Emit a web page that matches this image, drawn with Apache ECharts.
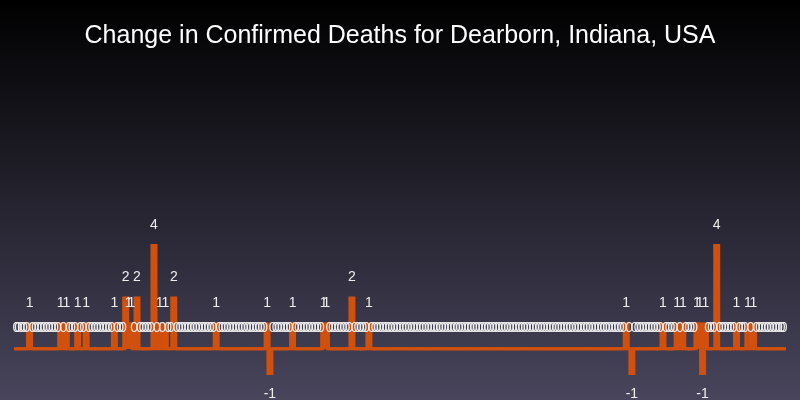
<!DOCTYPE html>
<html>
<head>
<meta charset="utf-8">
<script src="https://cdn.jsdelivr.net/npm/echarts@6/dist/echarts.min.js"></script>
<style>
  html, body { margin: 0; padding: 0; }
  #chart { width: 800px; height: 400px; }
</style>
</head>
<body>
<div id="chart"></div>
<script>
const chartTitle = "Change in Confirmed Deaths for Dearborn, Indiana, USA";

// daily change in confirmed deaths, one value per day
const deaths = [
  0,0,0,0,0,1,0,0,0,0, 0,0,0,0,0,0,1,0,1,0,
  0,0,1,0,0,1,0,0,0,0, 0,0,0,0,0,1,0,0,0,2,
  1,1,0,2,0,0,0,0,0,4, 0,1,0,1,0,0,2,0,0,0,
  0,0,0,0,0,0,0,0,0,0, 0,1,0,0,0,0,0,0,0,0,
  0,0,0,0,0,0,0,0,0,1, -1,0,0,0,0,0,0,0,1,0,
  0,0,0,0,0,0,0,0,0,1, 1,0,0,0,0,0,0,0,0,2,
  0,0,0,0,0,1,0,0,0,0, 0,0,0,0,0,0,0,0,0,0,
  0,0,0,0,0,0,0,0,0,0, 0,0,0,0,0,0,0,0,0,0,
  0,0,0,0,0,0,0,0,0,0, 0,0,0,0,0,0,0,0,0,0,
  0,0,0,0,0,0,0,0,0,0, 0,0,0,0,0,0,0,0,0,0,
  0,0,0,0,0,0,0,0,0,0, 0,0,0,0,0,0,1,0,-1,0,
  0,0,0,0,0,0,0,0,0,1, 0,0,0,0,1,0,1,0,0,0,
  0,1,1,-1,1,0,0,0,4,0, 0,0,0,0,0,1,0,0,0,1,
  0,1,0,0,0,0,0,0,0,0, 0,0,0
];
const days = deaths.map((_, i) => "day " + (i + 1));

const barColor = "#d1500d";

const chart = echarts.init(document.getElementById("chart"));
chart.setOption({
  animation: false,
  backgroundColor: {
    type: "linear", x: 0, y: 0, x2: 0, y2: 1,
    colorStops: [{offset: 0, color: "#000000"}, {offset: 1, color: "#48455c"}]
  },
  title: {
    text: chartTitle,
    left: "center",
    top: 19,
    textStyle: {color: "#ffffff", fontSize: 25, fontWeight: "normal", fontFamily: "Liberation Sans"}
  },
  grid: {left: 14, right: 14, top: 244, bottom: 25},
  xAxis: {
    type: "category",
    data: days,
    show: false
  },
  yAxis: {
    type: "value",
    min: -1,
    max: 4,
    show: false
  },
  series: [{
    type: "bar",
    barMinWidth: 7,
    itemStyle: {color: barColor, borderColor: barColor, borderWidth: 3},
    label: {
      show: true,
      position: "top",
      distance: 12,
      color: "#eeeeee",
      fontSize: 14,
      fontFamily: "Liberation Sans"
    },
    data: deaths.map(v => v < 0 ? {value: v, label: {position: "bottom"}} : v)
  }]
});
</script>
</body>
</html>
